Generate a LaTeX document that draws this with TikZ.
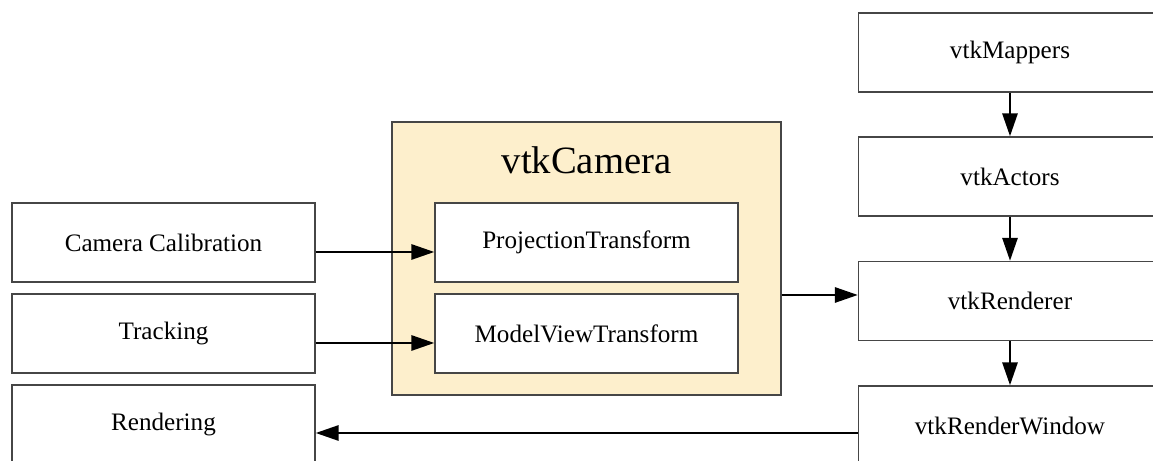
\documentclass[tikz,border=0pt]{standalone}
\usepackage{fontspec}
\setmainfont{Liberation Serif}
\usepackage{tikz}
\usetikzlibrary{arrows.meta}

\definecolor{camfill}{RGB}{253,239,204}
\definecolor{boxline}{RGB}{70,70,70}

\tikzset{
	block/.style={draw=boxline, line width=0.7pt, fill=white, minimum width=6.06cm, minimum height=1.58cm, inner sep=0pt, font=\fontsize{14.3}{16}\selectfont},
	flow/.style={->, line width=1.6pt}
}

\begin{document}
\begin{tikzpicture}[>={Triangle[length=4.6mm,width=3mm]}]
		%			\draw [help lines] (0,0) grid (23,9);
		\useasboundingbox (0,0) rectangle (23.06,9.22);
		\node [block] (calib) at (3.27,4.37) {Camera Calibration};
		\node [block] (track) at (3.27,2.55) {Tracking};
		\node [block] (rendering) at (3.27,0.73) {Rendering};
		\node [draw=boxline, line width=0.7pt, fill=camfill, minimum width=7.78cm, minimum height=5.46cm] (camera) at (11.73,4.05) {};
		\node [font=\fontsize{22}{26}\selectfont] (camtitle) at (11.73,6.02) {vtkCamera};
		\node [block] (proj) at (11.73,4.37) {ProjectionTransform};
		\node [block] (model) at (11.73,2.55) {ModelViewTransform};
		\node [block] (mappers) at (20.2,8.17) {vtkMappers};
		\node [block] (actors) at (20.2,5.69) {vtkActors};
		\node [block] (renderer) at (20.2,3.20) {vtkRenderer};
		\node [block] (window) at (20.2,0.71) {vtkRenderWindow};
		\draw [flow] ([yshift=-0.19cm]calib.east) -- ([yshift=-0.19cm]proj.west);
		\draw [flow] ([yshift=-0.19cm]track.east) -- ([yshift=-0.19cm]model.west);
		\draw [flow] ([yshift=0.12cm]camera.east |- renderer.west) -- ([yshift=0.12cm]renderer.west);
		\draw [flow] (mappers) -- (actors);
		\draw [flow] (actors) -- (renderer);
		\draw [flow] (renderer) -- (window);
		\draw [flow] ([yshift=-0.15cm]window.west) -- ([yshift=-0.15cm]window.west -| rendering.east);
	\end{tikzpicture}
\end{document}
